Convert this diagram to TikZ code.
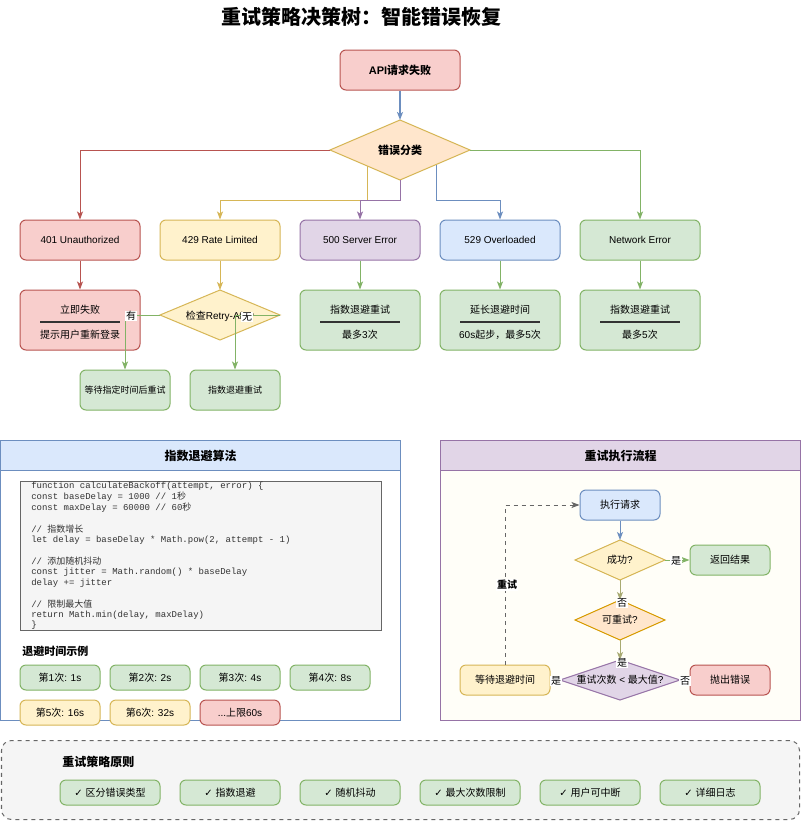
\documentclass[tikz,border=0pt]{standalone}
\usepackage{fontspec}
\setmainfont{Liberation Sans}
\setmonofont{Liberation Mono}
\newfontfamily\cjkf{Noto Sans CJK SC}
\newfontfamily\symf{DejaVu Sans}
\usetikzlibrary{shapes.geometric,arrows.meta,calc,backgrounds}
\XeTeXinterchartokenstate=1
\newXeTeXintercharclass\cjkcls
\makeatletter
\def\setcjkrange#1#2{\count@=#1\relax\loop\XeTeXcharclass\count@=\cjkcls\ifnum\count@<#2\advance\count@\@ne\repeat}
\setcjkrange{"3000}{"303F}
\setcjkrange{"4E00}{"9FFF}
\setcjkrange{"FF00}{"FFEF}
\makeatother
\XeTeXinterchartoks 0 \cjkcls={\begingroup\cjkf}
\XeTeXinterchartoks 4095 \cjkcls={\begingroup\cjkf}
\XeTeXinterchartoks \cjkcls 0={\endgroup}
\XeTeXinterchartoks \cjkcls 4095={\endgroup}
\newcommand\fsa{\fontsize{7.5pt}{9pt}\selectfont}
\newcommand\fsn{\fontsize{6.75pt}{8pt}\selectfont}
\newcommand\fsb{\fontsize{8.25pt}{10pt}\selectfont}
\newcommand\fsc{\fontsize{9pt}{11pt}\selectfont}
\newcommand\fst{\fontsize{15pt}{18pt}\selectfont}
\definecolor{rf}{HTML}{F8CECC}\definecolor{rs}{HTML}{B85450}
\definecolor{yf}{HTML}{FFF2CC}\definecolor{ys}{HTML}{D6B656}
\definecolor{pf}{HTML}{E1D5E7}\definecolor{ps}{HTML}{9673A6}
\definecolor{bf}{HTML}{DAE8FC}\definecolor{bs}{HTML}{6C8EBF}
\definecolor{gf}{HTML}{D5E8D4}\definecolor{gs}{HTML}{82B366}
\definecolor{of}{HTML}{FFE6CC}\definecolor{os}{HTML}{D79B00}
\definecolor{olv}{HTML}{A8AA72}
\definecolor{c33}{HTML}{333333}\definecolor{c66}{HTML}{666666}
\definecolor{lg}{HTML}{F5F5F5}\definecolor{cream}{HTML}{FFFEF8}
\begin{document}
\begin{tikzpicture}[x=0.75pt,y=-0.75pt,
 sz/.style 2 args={minimum width=#1*0.75pt,minimum height=#2*0.75pt,inner sep=0pt},
 bx/.style={draw,rounded corners=4.5pt,line width=0.75pt,font=\fsa,text=black},
 dm/.style={draw,diamond,line width=0.75pt,inner sep=0pt,outer sep=0pt},
 rbox/.style={fill=rf,draw=rs},
 ybox/.style={fill=yf,draw=ys},
 pbox/.style={fill=pf,draw=ps},
 bbox/.style={fill=bf,draw=bs},
 gbox/.style={fill=gf,draw=gs},
 obox/.style={fill=of,draw=ys},
 ar/.style={-{Stealth[length=6pt,width=4.5pt,inset=1.5pt]},line width=0.75pt},
 lbl/.style={fill=white,inner sep=0.6pt,font=\fsa},
 txt/.style={inner sep=0pt,font=\fsa},
 sepl/.style={draw=c33,line width=1.1pt},
 code/.style={inner sep=0pt,anchor=west,font=\ttfamily\fsn,text=c33},
]
\useasboundingbox (0,0) rectangle (801,821);
\begin{pgfonlayer}{background}
\fill[white] (0,0) rectangle (801,821);
\end{pgfonlayer}

% title
\node[txt,font=\bfseries\fst] (title) at (361,17) {重试策略决策树：智能错误恢复};

% top
\node[bx,rbox,sz={120}{40},font=\bfseries\fsb] (api) at (400,70) {API请求失败};
\node[dm,obox,sz={140}{60}] (cls) at (400,150) {};
\node[txt,font=\bfseries\fsb] (clst) at (cls.center) {错误分类};

% row 1
\node[bx,rbox,sz={120}{40}] (e401) at (80,240) {401 Unauthorized};
\node[bx,ybox,sz={120}{40}] (e429) at (220,240) {429 Rate Limited};
\node[bx,pbox,sz={120}{40}] (e500) at (360,240) {500 Server Error};
\node[bx,bbox,sz={120}{40}] (e529) at (500,240) {529 Overloaded};
\node[bx,gbox,sz={120}{40}] (enet) at (640,240) {Network Error};

% row 2
\node[bx,rbox,sz={120}{60}] (fail) at (80,320) {};
\node[txt] (fail1) at (80,310) {立即失败};
\node[txt] (fail2) at (80,335) {提示用户重新登录};
\draw[sepl] (40,322) -- (120,322);

\node[dm,ybox,sz={120}{50}] (chk) at (220,315) {};
\node[txt] (chkt) at (220,316) {检查Retry-After};

\node[bx,gbox,sz={120}{60}] (s500) at (360,320) {};
\node[txt] (s5001) at (360,310) {指数退避重试};
\node[txt] (s5002) at (360,335) {最多3次};
\draw[sepl] (320,322) -- (400,322);

\node[bx,gbox,sz={120}{60}] (s529) at (500,320) {};
\node[txt] (s5291) at (500,310) {延长退避时间};
\node[txt] (s5292) at (500,335) {60s起步，最多5次};
\draw[sepl] (460,322) -- (540,322);

\node[bx,gbox,sz={120}{60}] (snet) at (640,320) {};
\node[txt] (snet1) at (640,310) {指数退避重试};
\node[txt] (snet2) at (640,335) {最多5次};
\draw[sepl] (600,322) -- (680,322);

\node[bx,gbox,sz={90}{40},font=\fsn] (wait) at (125,390) {等待指定时间后重试};
\node[bx,gbox,sz={90}{40},font=\fsn] (exp2) at (235,390) {指数退避重试};

% edges top
\draw[ar,draw=bs,line width=1.5pt] (api) -- (cls);
\draw[ar,draw=rs] (cls.west) -| (e401.north);
\draw[ar,draw=gs] (cls.east) -| (enet.north);
\begin{pgfonlayer}{background}
\draw[ar,draw=ys] ($(cls.center)+(-33,0)$) -- ++(0,50) -| (e429.north);
\draw[ar,draw=bs] ($(cls.center)+(36,0)$) -- ++(0,50) -| (e529.north);
\end{pgfonlayer}
\draw[ar,draw=ps] (cls.south) -- ++(0,20) -| (e500.north);

\draw[ar,draw=rs] (e401) -- (fail);
\draw[ar,draw=ys] (e429) -- (chk);
\draw[ar,draw=gs] (e500) -- (s500);
\draw[ar,draw=gs] (e529) -- (s529);
\draw[ar,draw=gs] (enet) -- (snet);

\draw[ar,draw=gs] (chk.west) -| (wait.north);
\draw[ar,draw=gs] (chk.east) -| (exp2.north);
\node[lbl] (lyou) at (131,316) {有};
\node[lbl] (lwu) at (247,317) {无};

% left panel
\node[draw=bs,fill=white,line width=0.75pt,sz={400}{280},anchor=north west] (lpanel) at (0,440) {};
\node[draw=bs,fill=bf,line width=0.75pt,sz={400}{30},anchor=north west,font=\bfseries\fsc] (lhead) at (0,440) {指数退避算法};
\node[draw=c66,fill=lg,line width=0.75pt,sz={361}{149},anchor=north west] (codebox) at (20,481) {};
\node[code] (k1) at (31,486) {function calculateBackoff(attempt, error) \{};
\node[code] (k2) at (31,497) {const baseDelay = 1000 // 1秒};
\node[code] (k3) at (31,508) {const maxDelay = 60000 // 60秒};
\node[code] (k4) at (31,529) {// 指数增长};
\node[code] (k5) at (31,540) {let delay = baseDelay * Math.pow(2, attempt - 1)};
\node[code] (k6) at (31,561) {// 添加随机抖动};
\node[code] (k7) at (31,572) {const jitter = Math.random() * baseDelay};
\node[code] (k8) at (31,583) {delay += jitter};
\node[code] (k9) at (31,604) {// 限制最大值};
\node[code] (k10) at (31,615) {return Math.min(delay, maxDelay)};
\node[code] (k11) at (31,625) {\}};

\node[txt,anchor=west,font=\bfseries\fsb] (exlbl) at (22,651) {退避时间示例};
\node[bx,gbox,sz={80}{25}] (t1) at (60,677.5) {第1次: 1s};
\node[bx,gbox,sz={80}{25}] (t2) at (150,677.5) {第2次: 2s};
\node[bx,gbox,sz={80}{25}] (t3) at (240,677.5) {第3次: 4s};
\node[bx,gbox,sz={80}{25}] (t4) at (330,677.5) {第4次: 8s};
\node[bx,ybox,sz={80}{25}] (t5) at (60,712.5) {第5次: 16s};
\node[bx,ybox,sz={80}{25}] (t6) at (150,712.5) {第6次: 32s};
\node[bx,rbox,sz={80}{25}] (t7) at (240,712.5) {...上限60s};

% right panel
\node[draw=ps,fill=cream,line width=0.75pt,sz={360}{280},anchor=north west] (rpanel) at (440,440) {};
\node[draw=ps,fill=pf,line width=0.75pt,sz={360}{30},anchor=north west,font=\bfseries\fsc] (rhead) at (440,440) {重试执行流程};

\node[bx,bbox,sz={80}{30}] (exec) at (620,505) {执行请求};
\node[dm,ybox,sz={90}{40}] (succ) at (620,560) {};
\node[txt] (succt) at (succ.center) {成功?};
\node[bx,gbox,sz={80}{30}] (ret) at (730,560) {返回结果};
\node[dm,fill=of,draw=os,sz={90}{40}] (canr) at (620,620) {};
\node[txt] (canrt) at (canr.center) {可重试?};
\node[dm,pbox,sz={120}{40}] (cnt) at (620,680) {};
\node[txt] (cntt) at (cnt.center) {重试次数 < 最大值?};
\node[bx,ybox,sz={90}{30}] (waitb) at (505,680) {等待退避时间};
\node[bx,rbox,sz={80}{30}] (throw) at (730,680) {抛出错误};

\draw[ar,draw=bs] (exec) -- (succ);
\draw[ar,draw=gs] (succ.east) -- (ret.west);
\draw[ar,draw=olv] (succ.south) -- (canr.north);
\draw[ar,draw=olv] (canr.south) -- (cnt.north);
\draw[ar,draw=olv] (cnt.west) -- (waitb.east);
\draw[ar,draw=olv] (cnt.east) -- (throw.west);
\draw[ar,draw=c66,dashed] (waitb.north) |- (exec.west);
\node[lbl] (l1) at (676,561) {是};
\node[lbl] (l2) at (622,603) {否};
\node[lbl] (l3) at (622,663) {是};
\node[lbl] (l4) at (556,681) {是};
\node[lbl] (l5) at (685,681) {否};
\node[lbl,font=\bfseries\fsa] (l6) at (507,585) {重试};

% bottom panel
\node[draw=c66,fill=lg,dashed,line width=0.75pt,rounded corners=7.5pt,sz={798}{79},anchor=north west] (bpanel) at (1,740) {};
\node[txt,anchor=west,font=\bfseries\fsc] (ptitle) at (62,762) {重试策略原则};
\node[bx,gbox,sz={100}{25}] (p1) at (110,792.5) {{\symf ✓} 区分错误类型};
\node[bx,gbox,sz={100}{25}] (p2) at (230,792.5) {{\symf ✓} 指数退避};
\node[bx,gbox,sz={100}{25}] (p3) at (350,792.5) {{\symf ✓} 随机抖动};
\node[bx,gbox,sz={100}{25}] (p4) at (470,792.5) {{\symf ✓} 最大次数限制};
\node[bx,gbox,sz={100}{25}] (p5) at (590,792.5) {{\symf ✓} 用户可中断};
\node[bx,gbox,sz={100}{25}] (p6) at (710,792.5) {{\symf ✓} 详细日志};
\end{tikzpicture}
\end{document}
